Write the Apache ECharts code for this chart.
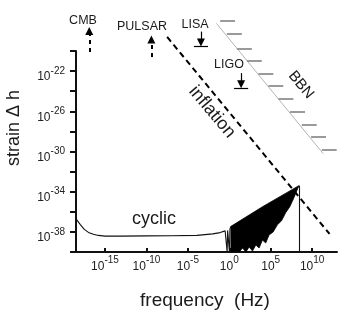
<!DOCTYPE html>
<html><head><meta charset="utf-8">
<script src="https://cdn.jsdelivr.net/npm/echarts@6/dist/echarts.min.js"></script>
<style>html,body{margin:0;padding:0;background:#fff}#c{width:353px;height:316px}</style>
</head><body><div id="c"></div>
<script>
// All x values are log10(frequency / Hz), all y values are log10(strain).
const xTickExponents = [-15, -10, -5, 0, 5, 10];
const yLabelExponents = [-38, -34, -30, -26, -22];
const yTickExponents = [-40, -38, -36, -34, -32, -30, -28, -26, -24, -22, -20];

// cyclic spectrum (smooth part + first deep oscillations)
const cyclicX = [-18.5, -18.0, -17.5, -17.0, -16.4, -15.8, -15.0, -13.0, -10.0, -7.0, -3.9, -2.0, -1.1, -0.5, -0.36, -0.3, -0.26, -0.2, -0.06, 0.02, 0.08, 0.2];
const cyclicY = [-36.7, -37.25, -37.75, -38.05, -38.23, -38.35, -38.42, -38.42, -38.4, -38.38, -38.35, -38.2, -38.07, -37.9, -37.8, -37.9, -40.0, -37.85, -37.8, -40.0, -37.7, -37.45];
// oscillating band of the cyclic spectrum
const oscUpperX = [0.2, 4.0, 8.4];
const oscUpperY = [-37.45, -35.5, -33.4];
const oscLowerX = [0.2, 0.8, 1.2, 1.6, 2.0, 2.4, 2.8, 3.2, 3.6, 4.0, 4.4, 4.8, 5.3, 5.8, 6.3, 6.8, 7.3, 7.8, 8.4];
const oscLowerY = [-40, -39.9, -40, -39.6, -40, -39.5, -39.9, -39.3, -39.6, -38.8, -39.1, -38.3, -38.0, -37.3, -36.9, -36.1, -35.5, -34.6, -33.4];
// cutoff of the cyclic spectrum
const cutoffX = [8.4, 8.4];
const cutoffY = [-33.4, -40];
// inflation
const inflationX = [-7.5, 12.1];
const inflationY = [-18.6, -38.2];
// BBN bound with hatches
const bbnX = [-1.55, 11.35];
const bbnY = [-17.25, -30.23];
const bbnHatchX = [-1.10, -0.29, 0.92, 2.12, 3.52, 4.72, 5.93, 7.34, 8.75, 9.87, 11.16];
const bbnHatchY = [-17.0, -18.33, -19.73, -20.97, -22.23, -23.47, -24.73, -26.07, -27.33, -28.57, -29.8];
const bbnHatchLen = 1.8;
// CMB / PULSAR bounds (upward arrows)
const probeNames = ['CMB', 'PULSAR'];
const probeX = [-16.9, -9.4];
const probeFromY = [-20.1, -20.6];
const probeToY = [-18.0, -18.85];
// LISA / LIGO sensitivities (downward arrows with bar)
const detNames = ['LISA', 'LIGO'];
const detX = [-3.42, 1.43];
const detFromY = [-18.07, -22.2];
const detToY = [-19.15, -23.32];
const detBarY = [-19.5, -23.7];
const detBarHalf = 0.85;

const FONT = "'Liberation Sans', Arial, Helvetica, sans-serif";
const zip = (a, b) => a.map((v, i) => [v, b[i]]);

const chart = echarts.init(document.getElementById('c'));
const txt = (text, x, y, size, rot) => ({
  type: 'text', x: x, y: y, rotation: (rot || 0) * Math.PI / 180,
  style: { text: text, font: size + 'px ' + FONT, fill: '#1a1a1a', align: 'center', verticalAlign: 'middle', textAlign: 'center', textVerticalAlign: 'middle' }
});

chart.setOption({
  animation: false,
  backgroundColor: '#fff',
  grid: { left: 76, right: 16, top: 51, bottom: 64, containLabel: false },
  xAxis: {
    type: 'value', min: -18.5, max: 13,
    axisLine: { show: true, onZero: false, lineStyle: { color: '#111', width: 2 } },
    axisTick: { show: true, inside: true, length: 4, customValues: xTickExponents, lineStyle: { color: '#111', width: 2 } },
    axisLabel: {
      customValues: xTickExponents, margin: 3, color: '#222', fontFamily: FONT,
      formatter: v => '{b|10}{s|' + v + '}',
      rich: { b: { fontSize: 12, fontFamily: FONT, color: '#222', padding: [6, 0, 0, 0] }, s: { fontSize: 10, fontFamily: FONT, color: '#222', padding: [0, 0, 7, 0] } }
    },
    splitLine: { show: false }
  },
  yAxis: {
    type: 'value', min: -40, max: -20, interval: 2,
    axisLine: { show: true, onZero: false, lineStyle: { color: '#111', width: 2 } },
    axisTick: { show: true, inside: false, length: 6, customValues: yTickExponents, lineStyle: { color: '#111', width: 2 } },
    axisLabel: {
      customValues: yLabelExponents, margin: 11, color: '#222', fontFamily: FONT,
      formatter: v => '{b|10}{s|' + v + '}',
      rich: { b: { fontSize: 12, fontFamily: FONT, color: '#222', padding: [12, 0, 0, 0] }, s: { fontSize: 10, fontFamily: FONT, color: '#222' } }
    },
    splitLine: { show: false }
  },
  graphic: [
    txt('strain Δ h', 14, 128, 18, 90),
    txt('frequency  (Hz)', 205, 301, 19, 0),
    txt('cyclic', 154, 219, 18, 0),
    txt('inflation', 212, 112, 18, -50),
    txt('BBN', 301, 85, 15, -50),
    txt(probeNames[0], 83, 21, 12.5, 0),
    txt(probeNames[1], 142, 27, 12.5, 0),
    txt(detNames[0], 195, 25, 12.5, 0),
    txt(detNames[1], 229, 65, 12.5, 0)
  ],
  series: [
    {
      type: 'line', data: zip(cyclicX, cyclicY), showSymbol: false, symbol: 'none',
      lineStyle: { color: '#111', width: 1.1 }, z: 5
    },
    {
      type: 'custom', data: [[oscUpperX[0], oscUpperY[0]]], encode: { x: 0, y: 1 }, z: 4,
      renderItem: (params, api) => {
        const pts = [];
        for (let i = 0; i < oscUpperX.length; i++) pts.push(api.coord([oscUpperX[i], oscUpperY[i]]));
        for (let i = oscLowerX.length - 1; i >= 0; i--) pts.push(api.coord([oscLowerX[i], oscLowerY[i]]));
        return { type: 'polygon', shape: { points: pts }, style: { fill: '#000', stroke: '#000', lineWidth: 0.8 } };
      }
    },
    {
      type: 'lines', coordinateSystem: 'cartesian2d', clip: false, z: 5,
      lineStyle: { color: '#111', width: 1.1, opacity: 1 },
      data: [{ coords: zip(cutoffX, cutoffY) }]
    },
    {
      type: 'lines', coordinateSystem: 'cartesian2d', clip: false, z: 6,
      lineStyle: { color: '#000', width: 2, type: [6, 4], opacity: 1 },
      data: [{ coords: zip(inflationX, inflationY) }]
    },
    {
      type: 'lines', coordinateSystem: 'cartesian2d', clip: false, z: 3,
      lineStyle: { color: '#b5b5b5', width: 1, opacity: 1 },
      data: [{ coords: zip(bbnX, bbnY) }]
    },
    {
      type: 'lines', coordinateSystem: 'cartesian2d', clip: false, z: 3,
      lineStyle: { color: '#9a9a9a', width: 2, opacity: 1 },
      data: bbnHatchX.map((x, i) => ({ coords: [[x, bbnHatchY[i]], [x + bbnHatchLen, bbnHatchY[i]]] }))
    },
    {
      type: 'lines', coordinateSystem: 'cartesian2d', clip: false, z: 6,
      symbol: ['none', 'triangle'], symbolSize: 8,
      lineStyle: { color: '#000', width: 2, type: [4, 4], opacity: 1 },
      data: probeX.map((x, i) => ({ coords: [[x, probeFromY[i]], [x, probeToY[i]]] }))
    },
    {
      type: 'lines', coordinateSystem: 'cartesian2d', clip: false, z: 6,
      symbol: ['none', 'triangle'], symbolSize: 8,
      lineStyle: { color: '#000', width: 1.2, opacity: 1 },
      data: detX.map((x, i) => ({ coords: [[x, detFromY[i]], [x, detToY[i]]] }))
    },
    {
      type: 'lines', coordinateSystem: 'cartesian2d', clip: false, z: 6,
      lineStyle: { color: '#000', width: 1.2, opacity: 1 },
      data: detX.map((x, i) => ({ coords: [[x - detBarHalf, detBarY[i]], [x + detBarHalf, detBarY[i]]] }))
    }
  ]
});
</script></body></html>
